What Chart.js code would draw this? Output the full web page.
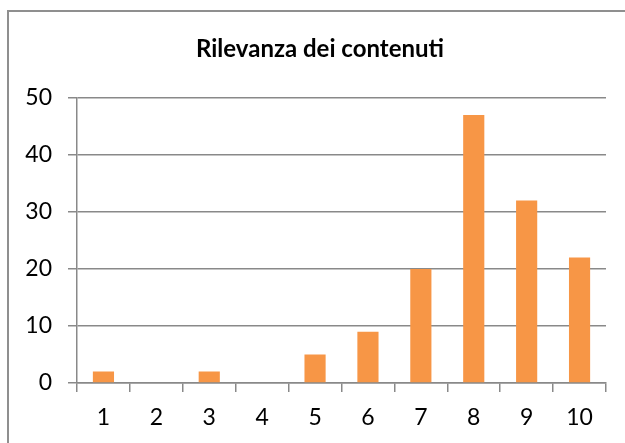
<!DOCTYPE html>
<html>
<head>
<meta charset="utf-8">
<script src="https://cdn.jsdelivr.net/npm/chart.js@4"></script>
<style>
  html, body { margin: 0; padding: 0; background: #fff; overflow: hidden; }
  #wrap { position: relative; width: 625px; height: 443px; }
  #frame { position: absolute; left: 7px; top: 10px; width: 700px; height: 500px; border: 2px solid #8f8f8f; }
  canvas { position: absolute; left: 0; top: 0; }
</style>
</head>
<body>
<div id="wrap">
  <div id="frame"></div>
  <canvas id="chart" width="625" height="443"></canvas>
</div>
<script>
// chart data
const categories = ['1', '2', '3', '4', '5', '6', '7', '8', '9', '10'];
const counts = [2, 0, 2, 0, 5, 9, 20, 47, 32, 22];
const yTicks = [0, 10, 20, 30, 40, 50];

const gridGray = '#898989';
const font = 'Lato, "Open Sans", sans-serif';

const ctx = document.getElementById('chart').getContext('2d');
const chart = new Chart(ctx, {
  type: 'bar',
  data: {
    labels: categories,
    datasets: [{
      data: counts,
      backgroundColor: '#F79646',
      borderWidth: 0,
      barPercentage: 0.4,
      categoryPercentage: 1.0
    }]
  },
  options: {
    responsive: false,
    animation: false,
    layout: { padding: { left: 15, right: 0, top: 0, bottom: 0 } },
    plugins: {
      legend: { display: false },
      tooltip: { enabled: false },
      title: {
        display: true,
        text: 'Rilevanza dei contenuti',
        color: '#000',
        font: { family: font, size: 24, weight: 'bold' },
        padding: { top: 35, bottom: 34 }
      }
    },
    scales: {
      x: {
        grid: { display: true, drawOnChartArea: false, drawTicks: true, tickLength: 9, color: gridGray, lineWidth: 1.5, offset: true },
        border: { color: gridGray, width: 1.5 },
        ticks: { color: '#000', font: { family: font, size: 23, lineHeight: 1.0 }, padding: 14, maxRotation: 0 }
      },
      y: {
        min: 0,
        max: 50,
        afterFit: (scale) => { scale.width = 62; },
        afterBuildTicks: (scale) => { scale.ticks = yTicks.map(v => ({ value: v })); },
        grid: { color: gridGray, lineWidth: 1.5, tickLength: 9 },
        border: { color: gridGray, width: 1.5 },
        ticks: { color: '#000', font: { family: font, size: 23 }, padding: 16 }
      },
      // empty spacer on the right so the plot ends where the original does
      spacer: {
        type: 'linear',
        position: 'right',
        display: true,
        afterFit: (scale) => { scale.width = 19; },
        grid: { display: false },
        border: { display: false },
        ticks: { display: false }
      }
    }
  }
});
</script>
</body>
</html>
